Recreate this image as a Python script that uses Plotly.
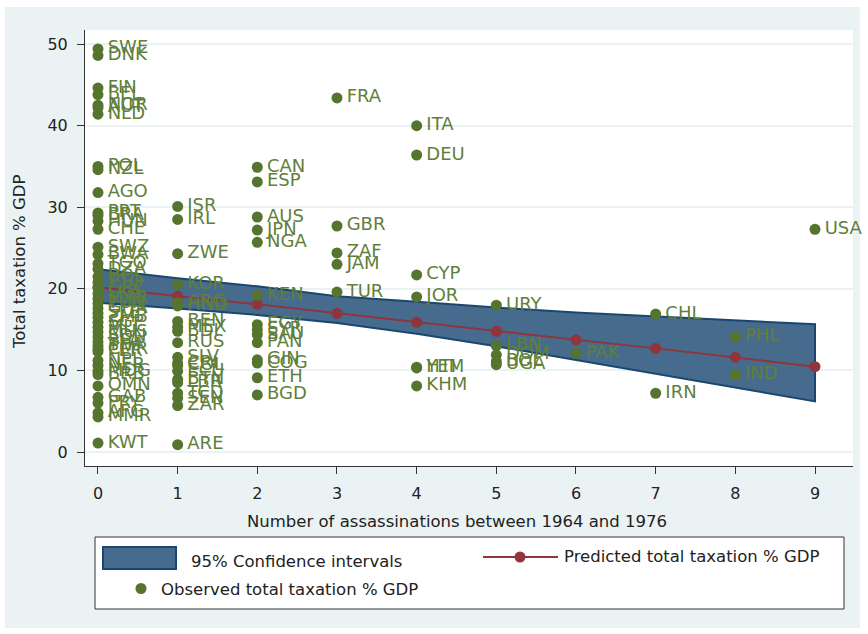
import plotly.graph_objects as go

# ---------------- data ----------------
pred_x = [0, 1, 2, 3, 4, 5, 6, 7, 8, 9]
pred_y = [20.2, 19.1, 18.1, 17.0, 15.9, 14.8, 13.75, 12.7, 11.6, 10.45]
ci_upper = [22.4, 21.3, 20.3, 19.1, 18.4, 17.7, 17.1, 16.6, 16.1, 15.65]
ci_lower = [18.3, 17.6, 16.8, 15.8, 14.5, 12.95, 11.3, 9.6, 7.9, 6.2]

countries = ["SWE", "DNK", "FIN", "BEL", "NOR", "AUT", "NLD", "POL", "NZL", "AGO",
             "PRT", "BRA", "HUN", "CHE", "SWZ", "BWA", "TGO", "DZA", "BOL", "TTO",
             "GRC", "LKA", "MAR", "TUN", "GHA", "SLE", "ZMB", "SGP", "MLI", "MUS",
             "SDN", "BFA", "THA", "CMR", "PER", "NPL", "NER", "MDG", "BRB", "OMN",
             "GAB", "PRY", "AFG", "MMR", "KWT",
             "ISR", "IRL", "ZWE", "KOR", "ARG", "HND", "BEN", "MEX", "BDI", "RUS",
             "SLV", "CRI", "COL", "ECU", "BTN", "LBR", "TCD", "SEN", "ZAR", "ARE",
             "CAN", "ESP", "AUS", "JPN", "NGA", "KEN", "EGY", "SYR", "SAU", "PAN",
             "GIN", "COG", "ETH", "BGD",
             "FRA", "GBR", "ZAF", "JAM", "TUR",
             "ITA", "DEU", "CYP", "JOR", "YEM", "HTI", "KHM",
             "URY", "LBN", "DOM", "BOL", "UGA",
             "PAK", "CHL", "IRN", "PHL", "IND", "USA"]
assassinations = [0] * 45 + [1] * 20 + [2] * 14 + [3] * 5 + [4] * 7 + [5] * 5 + [6, 7, 7, 8, 8, 9]
taxation = [49.4, 48.6, 44.6, 43.8, 42.5, 42.2, 41.4, 35.0, 34.6, 31.8,
            29.3, 29.0, 28.3, 27.3, 25.1, 24.2, 23.1, 22.4, 21.5, 20.8,
            20.1, 19.4, 18.8, 18.2, 17.6, 17.0, 16.5, 15.9, 15.3, 14.7,
            14.1, 13.5, 13.0, 12.6, 12.3, 11.2, 10.6, 9.9, 9.5, 8.1,
            6.7, 6.0, 4.8, 4.3, 1.1,
            30.1, 28.5, 24.3, 20.5, 18.3, 17.9, 16.0, 15.3, 14.8, 13.4,
            11.6, 10.9, 10.6, 9.9, 8.9, 8.5, 7.2, 6.6, 5.7, 0.9,
            34.9, 33.1, 28.8, 27.2, 25.7, 19.2, 15.6, 15.0, 14.4, 13.4,
            11.3, 10.9, 9.1, 7.0,
            43.4, 27.7, 24.4, 23.0, 19.6,
            40.0, 36.4, 21.7, 19.0, 10.4, 10.3, 8.1,
            18.0, 13.0, 11.9, 11.1, 10.7,
            12.1, 16.9, 7.2, 14.1, 9.5, 27.3]

x_ticks = [0, 1, 2, 3, 4, 5, 6, 7, 8, 9]
y_ticks = [0, 10, 20, 30, 40, 50]

# ---------------- styling ----------------
NAVY = "#1a476f"
BAND = "#476b8c"
MAROON = "#90353b"
GREEN = "#55752f"
LABEL_GREEN = "#5f7f3a"
BG = "#eaf2f3"
FONT = "DejaVu Sans"
TXT = 16.5

W, H = 868, 634
L, R, T, B = 85, 853, 30, 466


def px(x):
    return (x - L) / (R - L)


def py(y):
    return (B - y) / (B - T)


fig = go.Figure()

fig.add_trace(go.Scatter(
    x=pred_x + pred_x[::-1],
    y=ci_upper + ci_lower[::-1],
    fill="toself", fillcolor=BAND,
    line=dict(color=NAVY, width=2),
    mode="lines", hoverinfo="skip", showlegend=False))

fig.add_trace(go.Scatter(
    x=pred_x, y=pred_y, mode="lines+markers",
    line=dict(color=MAROON, width=2),
    marker=dict(color=MAROON, size=11),
    showlegend=False))

fig.add_trace(go.Scatter(
    x=assassinations, y=taxation, mode="markers+text",
    text=["\u200a" + c for c in countries], textposition="middle right",
    textfont=dict(family=FONT, size=18, color=LABEL_GREEN),
    marker=dict(color=GREEN, size=11),
    cliponaxis=False,
    showlegend=False))

shapes = [
    dict(type="rect", xref="paper", yref="paper", layer="below",
         x0=px(5), x1=px(860), y0=py(628), y1=py(7),
         fillcolor=BG, line=dict(width=0)),
    dict(type="rect", xref="paper", yref="paper", layer="below",
         x0=0, x1=1, y0=0, y1=1, fillcolor="white", line=dict(width=0)),
    # legend box
    dict(type="rect", xref="paper", yref="paper",
         x0=px(95), x1=px(844), y0=py(609), y1=py(537),
         fillcolor="white", line=dict(color="#333333", width=1)),
    dict(type="rect", xref="paper", yref="paper",
         x0=px(103), x1=px(176), y0=py(569), y1=py(547),
         fillcolor=BAND, line=dict(color=NAVY, width=2)),
    dict(type="line", xref="paper", yref="paper",
         x0=px(483), x1=px(558), y0=py(557), y1=py(557),
         line=dict(color=MAROON, width=2)),
    dict(type="circle", xref="paper", yref="paper",
         x0=px(514.5), x1=px(525.5), y0=py(562.5), y1=py(551.5),
         fillcolor=MAROON, line=dict(width=0)),
    dict(type="circle", xref="paper", yref="paper",
         x0=px(135.5), x1=px(146.5), y0=py(594), y1=py(583),
         fillcolor=GREEN, line=dict(width=0)),
]

annotations = [
    dict(text="Number of assassinations between 1964 and 1976", xref="paper", yref="paper",
         x=px(457), y=py(521), showarrow=False, xanchor="center", yanchor="middle",
         font=dict(family=FONT, size=TXT, color="#222")),
    dict(text="Total taxation % GDP", xref="paper", yref="paper", textangle=-90,
         x=px(19), y=py(262), showarrow=False, xanchor="center", yanchor="middle",
         font=dict(family=FONT, size=TXT, color="#222")),
    dict(text="95% Confidence intervals", xref="paper", yref="paper",
         x=px(189), y=py(561), showarrow=False, xanchor="left", yanchor="middle",
         font=dict(family=FONT, size=TXT, color="#222")),
    dict(text="Predicted total taxation % GDP", xref="paper", yref="paper",
         x=px(562), y=py(556), showarrow=False, xanchor="left", yanchor="middle",
         font=dict(family=FONT, size=TXT, color="#222")),
    dict(text="Observed total taxation % GDP", xref="paper", yref="paper",
         x=px(159), y=py(589), showarrow=False, xanchor="left", yanchor="middle",
         font=dict(family=FONT, size=TXT, color="#222")),
]

fig.update_layout(
    width=W, height=H,
    margin=dict(l=L, r=W - R, t=T, b=H - B),
    paper_bgcolor="white", plot_bgcolor="rgba(0,0,0,0)",
    showlegend=False,
    shapes=shapes, annotations=annotations,
    font=dict(family=FONT, size=16, color="#222"),
)
fig.update_xaxes(
    range=[-0.163, 9.477], tickvals=x_ticks, ticks="outside", ticklen=7,
    tickcolor="#333", showline=True, linecolor="#333", linewidth=1,
    showgrid=False, zeroline=False, ticklabelstandoff=6,
    tickfont=dict(family=FONT, size=16, color="#222"))
fig.update_yaxes(
    range=[-1.716, 51.72], tickvals=y_ticks, ticks="outside", ticklen=7,
    tickcolor="#333", showline=True, linecolor="#333", linewidth=1,
    showgrid=True, gridcolor=BG, gridwidth=2, zeroline=False, ticklabelstandoff=6,
    tickfont=dict(family=FONT, size=16, color="#222"))

fig.write_html("out.html", config={"displayModeBar": False},
               post_script="document.body.style.margin='0px';")
